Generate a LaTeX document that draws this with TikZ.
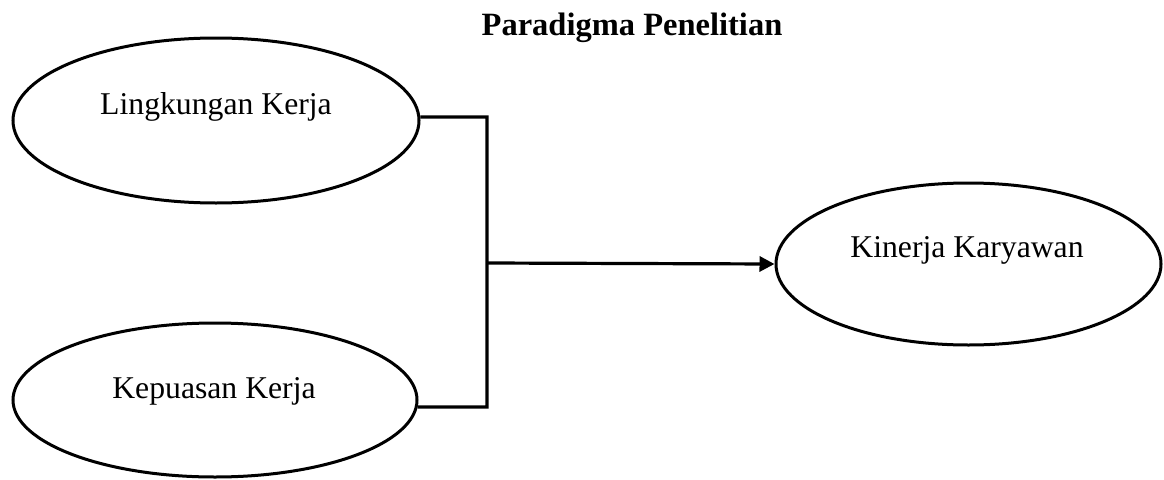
\documentclass[tikz,border=0pt]{standalone}
\usepackage{fontspec}
\setmainfont{Liberation Serif}
\usetikzlibrary{shapes.geometric,arrows.meta}
\begin{document}
\begin{tikzpicture}[x=1pt,y=-1pt,
  oval/.style={draw=black,line width=3pt,ellipse,inner sep=0pt},
  lbl/.style={anchor=base,inner sep=0pt,font=\fontsize{31.7}{36}\selectfont},
  link/.style={draw=black,line width=3.2pt,line join=miter}]
  \useasboundingbox (0,0) rectangle (1164,479);

  % title
  \node[anchor=base,inner sep=0pt,font=\fontsize{32.5}{38}\selectfont\bfseries] (title) at (632,35) {Paradigma Penelitian};

  % variables
  \node[oval,minimum width=406pt,minimum height=165pt] (lk) at (216,120.5) {};
  \node[oval,minimum width=404pt,minimum height=154pt] (kp) at (215,400) {};
  \node[oval,minimum width=385pt,minimum height=162pt] (kk) at (968.5,264) {};

  \node[lbl] (lkt) at (216,114) {Lingkungan Kerja};
  \node[lbl] (kpt) at (214,398) {Kepuasan Kerja};
  \node[lbl] (kkt) at (967,257) {Kinerja Karyawan};

  % bracket joining the two inputs
  \coordinate (jt) at (487,117);
  \coordinate (jb) at (487,407);
  \coordinate (jm) at (487,263);
  \draw[link] (lk.1.4) -- (jt) -- (jb) -- (kp.-2);
  \draw[link,-{Triangle[length=15pt,width=15pt]}] (jm) -- (kk.west);
\end{tikzpicture}
\end{document}
